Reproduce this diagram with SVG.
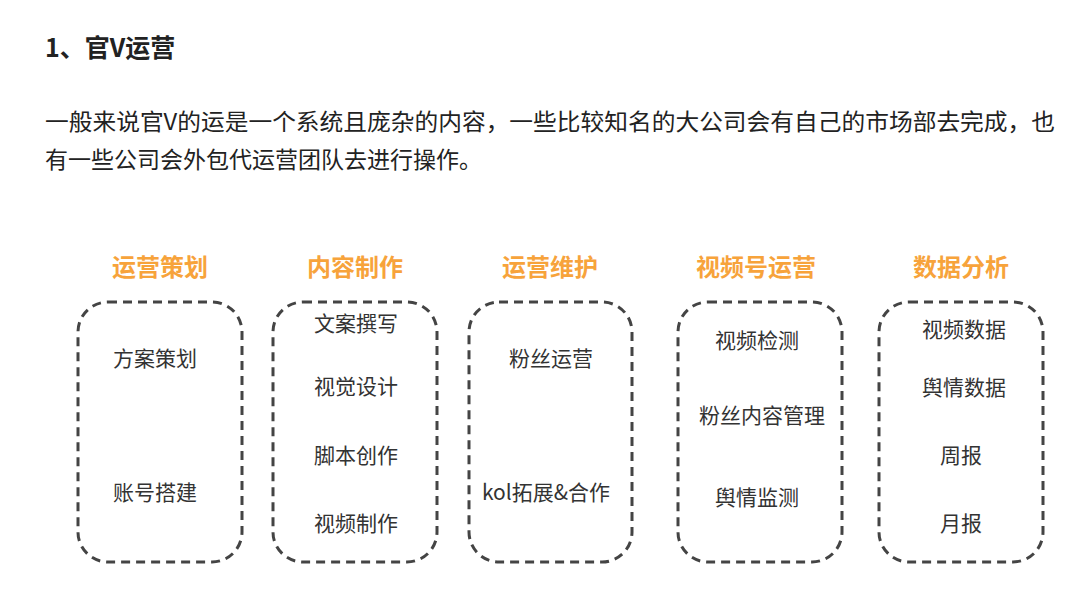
<svg xmlns="http://www.w3.org/2000/svg" width="1089" height="611" viewBox="0 0 1089 611">
<style>
text{font-family:"Noto Sans CJK SC","Liberation Sans",sans-serif}
.h{font-size:25px;font-weight:bold;fill:#222}
.p{font-size:23px;fill:#222}
.t{font-size:24px;font-weight:bold;fill:#F7A33B;text-anchor:middle}
.i{font-size:21px;fill:#333;text-anchor:middle}
.b{fill:none;stroke:#444;stroke-width:3;stroke-dasharray:9 6}
</style>
<rect width="1089" height="611" fill="#fff"/>
<text class="h" x="45" y="57">1、官V运营</text>
<text class="p" x="45" y="130" textLength="1010" lengthAdjust="spacingAndGlyphs">一般来说官V的运是一个系统且庞杂的内容，一些比较知名的大公司会有自己的市场部去完成，也</text>
<text class="p" x="45" y="168">有一些公司会外包代运营团队去进行操作。</text>
<g id="n1"><text class="t" x="160" y="276">运营策划</text><rect class="b" x="78" y="302" width="164" height="260" rx="30"/>
<text class="i" x="155" y="366">方案策划</text><text class="i" x="155" y="500">账号搭建</text></g>
<g id="n2"><text class="t" x="355" y="276">内容制作</text><rect class="b" x="273" y="302" width="164" height="260" rx="30"/>
<text class="i" x="356" y="331">文案撰写</text><text class="i" x="356" y="394">视觉设计</text><text class="i" x="356" y="463">脚本创作</text><text class="i" x="356" y="531">视频制作</text></g>
<g id="n3"><text class="t" x="550" y="276">运营维护</text><rect class="b" x="469" y="302" width="163" height="260" rx="30"/>
<text class="i" x="551" y="366">粉丝运营</text><text class="i" x="546" y="500">kol拓展&amp;合作</text></g>
<g id="n4"><text class="t" x="756" y="276">视频号运营</text><rect class="b" x="678" y="302" width="164" height="260" rx="30"/>
<text class="i" x="757" y="348">视频检测</text><text class="i" x="762" y="423">粉丝内容管理</text><text class="i" x="757" y="505">舆情监测</text></g>
<g id="n5"><text class="t" x="961" y="276">数据分析</text><rect class="b" x="879" y="302" width="164" height="260" rx="30"/>
<text class="i" x="964" y="337">视频数据</text><text class="i" x="964" y="395">舆情数据</text><text class="i" x="961" y="463">周报</text><text class="i" x="961" y="531">月报</text></g>
<g id="connectors"/>
</svg>
